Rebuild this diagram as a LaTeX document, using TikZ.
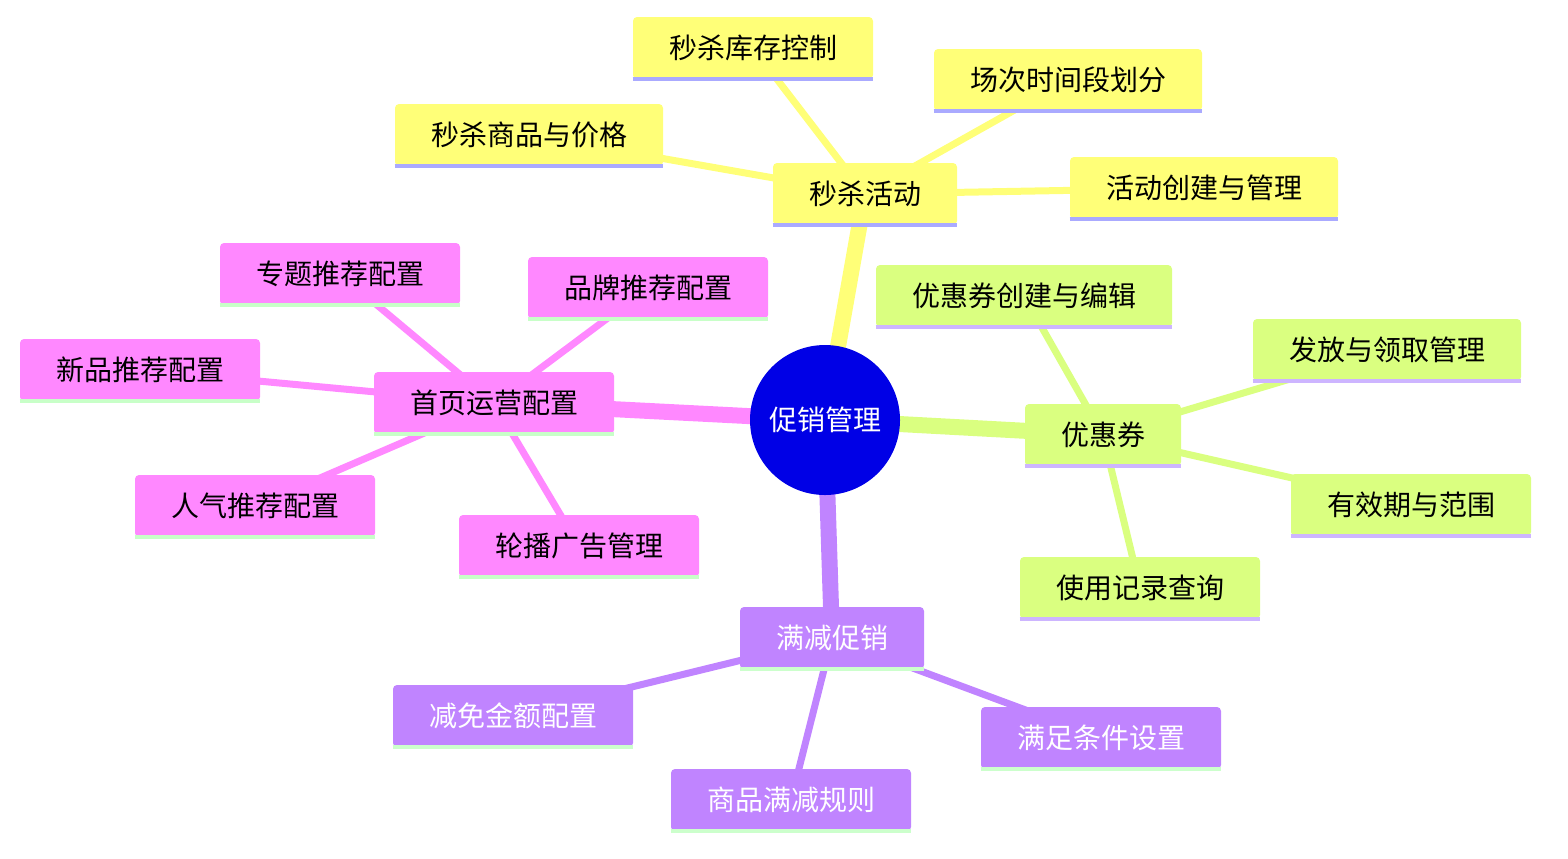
\documentclass[tikz,border=0pt]{standalone}
\usepackage{fontspec}
\newfontfamily\cjk{Noto Sans CJK SC}
\definecolor{kyel}{HTML}{FFFF78}
\definecolor{kgrn}{HTML}{DAFF80}
\definecolor{kpur}{HTML}{C084FF}
\definecolor{kmag}{HTML}{FF88FF}
\definecolor{uyel}{HTML}{AAAAFF}
\definecolor{ugrn}{HTML}{CDB5FF}
\definecolor{upur}{HTML}{CCFFCC}
\definecolor{umag}{HTML}{C8FFC8}
\pgfdeclarelayer{bg}\pgfsetlayers{bg,main}
\begin{document}
\begin{tikzpicture}[x=0.5pt,y=-0.5pt,
 box/.style={rectangle,rounded corners=2pt,inner xsep=18pt,inner ysep=0pt,minimum height=31pt,font=\cjk\fontsize{14pt}{16pt}\selectfont},
 top/.style={line width=8pt},
 sub/.style={line width=3.5pt},
 ul/.style={line width=2pt}]
\useasboundingbox (0,0) rectangle (1568,858);
\node[circle,fill={rgb,255:red,0;green,0;blue,230},minimum size=75pt,inner sep=0pt,text=white,font=\cjk\fontsize{14pt}{16pt}\selectfont] (r) at (825,420) {促销管理};
\node[box,fill=kyel] (a) at (865,194) {秒杀活动};
\node[box,fill=kgrn] (b) at (1103,435) {优惠券};
\node[box,fill=kpur,text=white] (c) at (832,638) {满减促销};
\node[box,fill=kmag] (d) at (494,403) {首页运营配置};
\node[box,fill=kyel] (a1) at (753,48) {秒杀库存控制};
\node[box,fill=kyel] (a2) at (1068,80) {场次时间段划分};
\node[box,fill=kyel] (a3) at (529,135) {秒杀商品与价格};
\node[box,fill=kyel] (a4) at (1204,188) {活动创建与管理};
\node[box,fill=kgrn] (b1) at (1024,296) {优惠券创建与编辑};
\node[box,fill=kgrn] (b2) at (1387,350) {发放与领取管理};
\node[box,fill=kgrn] (b3) at (1411,505) {有效期与范围};
\node[box,fill=kgrn] (b4) at (1140,588) {使用记录查询};
\node[box,fill=kpur,text=white] (c1) at (513,716) {减免金额配置};
\node[box,fill=kpur,text=white] (c2) at (1101,738) {满足条件设置};
\node[box,fill=kpur,text=white] (c3) at (791,800) {商品满减规则};
\node[box,fill=kmag] (d1) at (340,274) {专题推荐配置};
\node[box,fill=kmag] (d2) at (648,288) {品牌推荐配置};
\node[box,fill=kmag] (d3) at (140,370) {新品推荐配置};
\node[box,fill=kmag] (d4) at (255,506) {人气推荐配置};
\node[box,fill=kmag] (d5) at (579,546) {轮播广告管理};
\begin{pgfonlayer}{bg}
\draw[top,color=kyel] (r.center) -- (a.center);
\draw[top,color=kgrn] (r.center) -- (b.center);
\draw[top,color=kpur] (r.center) -- (c.center);
\draw[top,color=kmag] (r.center) -- (d.center);
\foreach \n in {a1,a2,a3,a4} \draw[sub,color=kyel] (a.center) -- (\n.center);
\foreach \n in {b1,b2,b3,b4} \draw[sub,color=kgrn] (b.center) -- (\n.center);
\foreach \n in {c1,c2,c3} \draw[sub,color=kpur] (c.center) -- (\n.center);
\foreach \n in {d1,d2,d3,d4,d5} \draw[sub,color=kmag] (d.center) -- (\n.center);
\end{pgfonlayer}
\foreach \n in {a,a1,a2,a3,a4} \draw[ul,color=uyel] (\n.south west) -- (\n.south east);
\foreach \n in {b,b1,b2,b3,b4} \draw[ul,color=ugrn] (\n.south west) -- (\n.south east);
\foreach \n in {c,c1,c2,c3} \draw[ul,color=upur] (\n.south west) -- (\n.south east);
\foreach \n in {d,d1,d2,d3,d4,d5} \draw[ul,color=umag] (\n.south west) -- (\n.south east);
\end{tikzpicture}
\end{document}
